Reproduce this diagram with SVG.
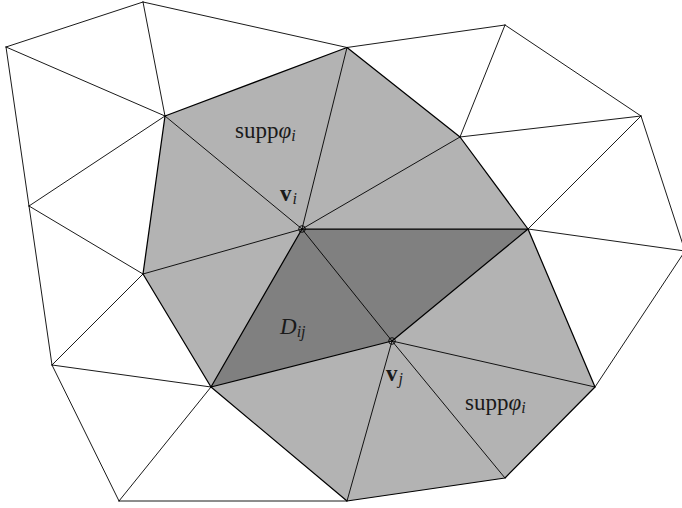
<svg xmlns="http://www.w3.org/2000/svg" width="682" height="508" viewBox="0 0 682 508">
<style>
.bg{fill:#ffffff}
.light{fill:#b3b3b3;stroke:none}
.dark{fill:#808080;stroke:none}
.thin{fill:none;stroke:#000;stroke-width:0.9;stroke-linejoin:round;stroke-linecap:round}
.thick{fill:none;stroke:#000;stroke-width:1.25;stroke-linejoin:round;stroke-linecap:round}
.vtx{fill:none;stroke:#000;stroke-width:0.9}
.lbl{font-family:"Liberation Serif","DejaVu Serif",serif;font-size:23px;fill:#1a1a1a}
.it{font-style:italic}
.bf{font-weight:bold}
.sub{font-size:16px;font-style:italic}
</style>
<rect class="bg" x="0" y="0" width="682" height="508"/>
<g id="regions">
  <polygon id="supp" class="light" points="165,116 347,47.5 460,137 528,229 595,387 505,478 347,501 211,387 143,274"/>
  <polygon id="Dij-region" class="dark" points="302,229 528,229 392,341 211,387"/>
</g>
<g id="connectors">
  <path class="thin" d="M143,2 L6,47 M143,2 L347,47.5 M143,2 L165,116 M6,47 L165,116 M6,47 L29,206 M29,206 L165,116 M29,206 L143,274 M29,206 L52,365 M143,274 L52,365 M52,365 L211,387 M52,365 L119,501 M119,501 L211,387 M119,501 L347,501 M347,47.5 L505,25 M505,25 L460,137 M505,25 L641,116 M460,137 L641,116 M641,116 L528,229 M641,116 L685,251 M528,229 L685,251 M685,251 L595,387"/>
  <path class="thin" d="M302,229 L165,116 M302,229 L347,47.5 M302,229 L460,137 M302,229 L143,274 M302,229 L392,341 M392,341 L595,387 M392,341 L505,478 M392,341 L347,501"/>
  <path class="thick" d="M165,116 L347,47.5 L460,137 L528,229 L595,387 L505,478 L347,501 L211,387 L143,274 Z"/>
  <path class="thick" d="M302,229 L528,229 L392,341 L211,387 Z"/>
</g>
<g id="vi">
  <circle class="vtx" cx="302" cy="229" r="3.3"/>
  <text class="lbl bf" x="280" y="201">v<tspan class="sub" font-weight="normal" dx="1" dy="3">i</tspan></text>
</g>
<g id="vj">
  <circle class="vtx" cx="392" cy="341" r="3.3"/>
  <text class="lbl bf" x="386" y="381">v<tspan class="sub" font-weight="normal" dx="1" dy="3">j</tspan></text>
</g>
<g id="label-supp-top">
  <text class="lbl" x="235" y="138">supp<tspan class="it">φ</tspan><tspan class="sub" dy="3">i</tspan></text>
</g>
<g id="label-supp-bottom">
  <text class="lbl" x="465" y="410">supp<tspan class="it">φ</tspan><tspan class="sub" dy="3">i</tspan></text>
</g>
<g id="label-Dij">
  <text class="lbl it" x="280" y="334">D<tspan class="sub" dy="3">ij</tspan></text>
</g>
</svg>
